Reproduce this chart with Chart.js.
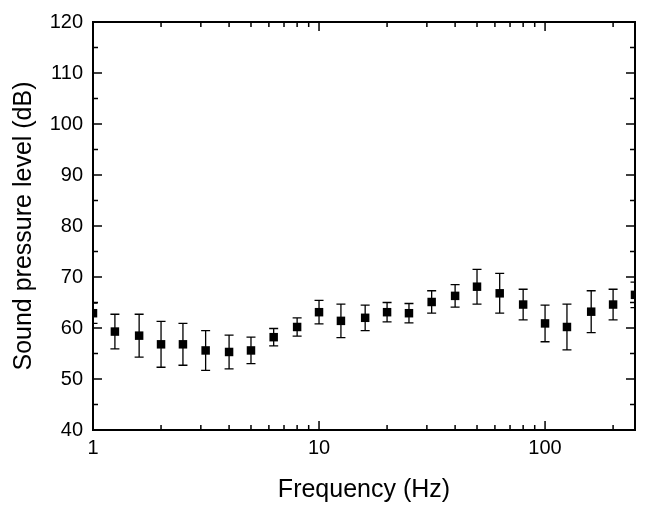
<!DOCTYPE html>
<html>
<head>
<meta charset="utf-8">
<script src="https://cdn.jsdelivr.net/npm/chart.js@4/dist/chart.umd.min.js"></script>
<style>
  html, body { margin: 0; padding: 0; background: #fff; }
  #wrap { width: 659px; height: 516px; position: relative; }
</style>
</head>
<body>
<div id="wrap"><canvas id="splChart"></canvas></div>
<script>
// 1/3-octave band centre frequencies (Hz)
const freqs = [1, 1.25, 1.6, 2, 2.5, 3.15, 4, 5, 6.3, 8, 10, 12.5, 16, 20, 25, 31.5, 40, 50, 63, 80, 100, 125, 160, 200, 250];
// mean sound pressure level (dB)
const spl = [62.9, 59.3, 58.5, 56.8, 56.8, 55.6, 55.3, 55.6, 58.2, 60.2, 63.1, 61.4, 62.0, 63.1, 62.9, 65.1, 66.3, 68.1, 66.8, 64.6, 60.9, 60.2, 63.2, 64.6, 66.5];
// error bar half-width (dB)
const spread = [2.0, 3.4, 4.2, 4.5, 4.1, 3.9, 3.3, 2.6, 1.7, 1.8, 2.3, 3.3, 2.5, 1.9, 1.9, 2.2, 2.2, 3.4, 3.9, 3.0, 3.6, 4.5, 4.1, 3.0, 2.5];

const xLabelled = [1, 10, 100];
const yMajor = [40, 50, 60, 70, 80, 90, 100, 110, 120];
const yMinor = [45, 55, 65, 75, 85, 95, 105, 115];
const xMinor = [2, 3, 4, 5, 6, 7, 8, 9, 20, 30, 40, 50, 60, 70, 80, 90, 200];

const points = freqs.map((f, i) => ({ x: f, y: spl[i] }));

// error bars, drawn through the scales
const errorBars = {
    id: 'errorBars',
    beforeDatasetsDraw(chart) {
        const { ctx, chartArea, scales: { x, y } } = chart;
        ctx.save();
        ctx.beginPath();
        ctx.rect(chartArea.left, chartArea.top, chartArea.right - chartArea.left, chartArea.bottom - chartArea.top);
        ctx.clip();
        ctx.strokeStyle = '#000';
        ctx.lineWidth = 1.3;
        freqs.forEach((f, i) => {
            const px = x.getPixelForValue(f);
            const top = y.getPixelForValue(spl[i] + spread[i]);
            const bot = y.getPixelForValue(spl[i] - spread[i]);
            ctx.beginPath();
            ctx.moveTo(px, top); ctx.lineTo(px, bot);
            ctx.moveTo(px - 4.5, top); ctx.lineTo(px + 4.5, top);
            ctx.moveTo(px - 4.5, bot); ctx.lineTo(px + 4.5, bot);
            ctx.stroke();
        });
        ctx.restore();
    }
};

// frame with inward ticks on all four sides
const frame = {
    id: 'frame',
    afterDatasetsDraw(chart) {
        const { ctx, chartArea: a, scales: { x, y } } = chart;
        ctx.save();
        ctx.strokeStyle = '#000';
        ctx.lineWidth = 2;
        ctx.strokeRect(a.left, a.top, a.right - a.left, a.bottom - a.top);
        ctx.lineWidth = 1.5;
        const tickY = (v, len) => {
            const py = y.getPixelForValue(v);
            ctx.moveTo(a.left, py); ctx.lineTo(a.left + len, py);
            ctx.moveTo(a.right, py); ctx.lineTo(a.right - len, py);
        };
        const tickX = (v, len) => {
            const px = x.getPixelForValue(v);
            ctx.moveTo(px, a.bottom); ctx.lineTo(px, a.bottom - len);
            ctx.moveTo(px, a.top); ctx.lineTo(px, a.top + len);
        };
        ctx.beginPath();
        yMajor.forEach(v => tickY(v, 9));
        yMinor.forEach(v => tickY(v, 5));
        xLabelled.forEach(v => tickX(v, 9));
        xMinor.forEach(v => tickX(v, 5));
        ctx.stroke();
        ctx.restore();
    }
};

document.addEventListener('DOMContentLoaded', () => {
    const ctx = document.getElementById('splChart').getContext('2d');
    new Chart(ctx, {
        type: 'scatter',
        data: {
            datasets: [{
                label: 'SPL',
                data: points,
                pointStyle: 'rect',
                pointRadius: 6,
                pointHoverRadius: 6,
                backgroundColor: '#000',
                borderColor: '#000',
                borderWidth: 0
            }]
        },
        options: {
            responsive: true,
            maintainAspectRatio: false,
            animation: false,
            layout: { padding: { top: 16, right: 24, left: 0, bottom: 0 } },
            plugins: { legend: { display: false }, tooltip: { enabled: false } },
            scales: {
                x: {
                    type: 'logarithmic',
                    min: 1,
                    max: 250,
                    grid: { display: false, drawTicks: false },
                    border: { display: false },
                    afterFit(scale) { scale.height = 86; },
                    ticks: {
                        autoSkip: false,
                        maxRotation: 0,
                        padding: 6,
                        color: '#000',
                        font: { family: 'Liberation Sans, Arial, sans-serif', size: 20 },
                        callback: v => xLabelled.includes(v) ? String(v) : ''
                    },
                    title: {
                        display: true,
                        text: 'Frequency (Hz)',
                        color: '#000',
                        font: { family: 'Liberation Sans, Arial, sans-serif', size: 25 },
                        padding: { top: 0, bottom: 11 }
                    }
                },
                y: {
                    min: 40,
                    max: 120,
                    grid: { display: false, drawTicks: false },
                    border: { display: false },
                    afterFit(scale) { scale.width = 93; },
                    afterBuildTicks(scale) { scale.ticks = yMajor.map(v => ({ value: v })); },
                    ticks: {
                        padding: 10,
                        color: '#000',
                        font: { family: 'Liberation Sans, Arial, sans-serif', size: 20 }
                    },
                    title: {
                        display: true,
                        text: 'Sound pressure level (dB)',
                        color: '#000',
                        font: { family: 'Liberation Sans, Arial, sans-serif', size: 25 },
                        padding: { top: 9, bottom: 0 }
                    }
                }
            }
        },
        plugins: [errorBars, frame]
    });
});
</script>
</body>
</html>
